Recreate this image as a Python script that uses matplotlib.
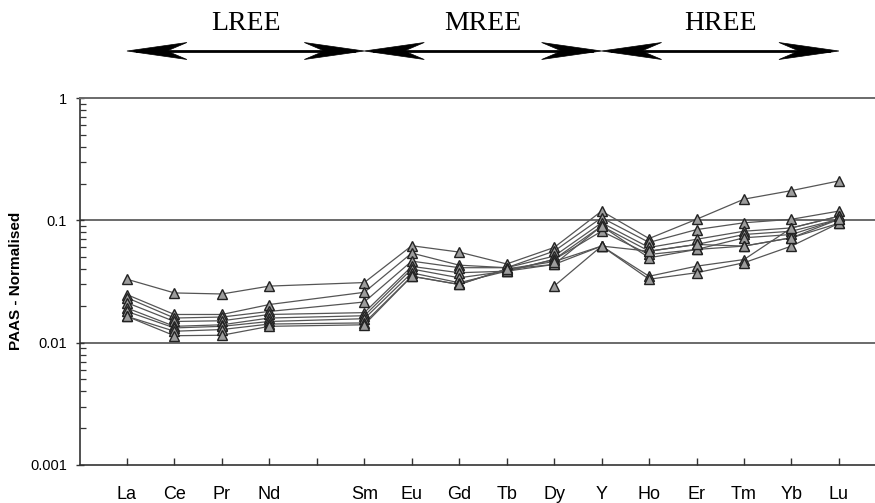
import numpy as np
import matplotlib
matplotlib.use("Agg")
import matplotlib.pyplot as plt
from matplotlib.patches import Polygon
from matplotlib.lines import Line2D
from matplotlib.transforms import IdentityTransform
from matplotlib.ticker import LogLocator, NullFormatter, FixedLocator

nan = np.nan

# Element order along the x axis (Pm slot left empty)
elements = ["La", "Ce", "Pr", "Nd", "", "Sm", "Eu", "Gd", "Tb", "Dy",
            "Y", "Ho", "Er", "Tm", "Yb", "Lu"]

# PAAS-normalised concentrations, one list per sample (index 4 = Pm, no data)
s1 = [0.033, 0.0255, 0.025, 0.029, nan, 0.031, 0.062, 0.055, 0.044, 0.060,
      0.119, 0.071, 0.102, 0.149, 0.175, 0.210]
s2 = [0.0247, 0.017, 0.017, 0.0205, nan, 0.0258, 0.054, 0.043, 0.041, 0.056,
      0.105, 0.066, 0.084, 0.0955, 0.102, 0.119]
s3 = [0.0233, 0.0159, 0.0162, 0.018, nan, 0.0215, 0.0464, 0.041, 0.041, 0.051,
      0.0955, 0.060, 0.070, 0.0815, 0.0867, 0.108]
s4 = [0.0212, 0.0149, 0.0151, 0.017, nan, 0.0176, 0.042, 0.0373, 0.0384, 0.048,
      0.0898, 0.056, 0.0635, 0.0766, 0.0815, 0.102]
s5 = [0.0192, 0.0136, 0.014, 0.0159, nan, 0.0166, 0.040, 0.0339, 0.0384, 0.0478,
      0.0815, 0.0526, 0.0578, 0.072, 0.0766, 0.102]
s6 = [0.0180, 0.0132, 0.0136, 0.0149, nan, 0.0157, 0.0372, 0.0309, 0.0384, 0.0436,
      0.0898, 0.0494, 0.0578, 0.0616, 0.072, 0.0947]
s7 = [0.0164, 0.0124, 0.0128, 0.0142, nan, 0.0145, 0.0349, 0.0299, 0.040, 0.0436,
      0.0616, 0.0349, 0.0422, 0.0478, 0.0867, 0.108]
s8 = [0.0164, 0.0114, 0.0115, 0.0136, nan, 0.0140, 0.0349, 0.0299, 0.040, 0.046,
      0.0616, 0.033, 0.0373, 0.045, 0.0616, 0.0947]
s9 = [nan, nan, nan, nan, nan, nan, nan, nan, nan, 0.029,
      0.0616, 0.0559, 0.0635, 0.0616, 0.072, 0.102]
samples = [s1, s2, s3, s4, s5, s6, s7, s8, s9]

y_ticks = [0.001, 0.01, 0.1, 1]
y_tick_labels = ["0.001", "0.01", "0.1", "1"]

groups = ["LREE", "MREE", "HREE"]
group_spans = [(0, 5), (5, 10), (10, 15)]

W, H = 875, 503
fig = plt.figure(figsize=(W / 100, H / 100), dpi=100)
ax_left, ax_bottom = 79.5 / W, 38 / H
ax = fig.add_axes([ax_left, ax_bottom, 1 - ax_left, 367 / H])

x = np.arange(len(elements))
for s in samples:
    v = np.array(s, dtype=float)
    m = ~np.isnan(v)
    # the line skips the empty Pm slot so Nd joins Sm directly
    not_pm = x != 4
    ax.plot(x[not_pm], v[not_pm], color="#555555", lw=0.9, zorder=2)
    ax.plot(x[m], v[m], linestyle="none", marker="^", markersize=7.5,
            markerfacecolor="#9c9c9c", markeredgecolor="#222222",
            markeredgewidth=1.0, zorder=3)

ax.set_yscale("log")
ax.set_ylim(0.001, 1)
ax.set_xlim(-1, 15.76)

for g in [0.01, 0.1]:
    ax.axhline(g, color="#6a6a6a", lw=1.4, zorder=1)

ax.spines["right"].set_visible(False)
ax.spines["top"].set_color("#6a6a6a")
ax.spines["top"].set_linewidth(1.4)
for sp in ["left", "bottom"]:
    ax.spines[sp].set_color("#333333")
    ax.spines[sp].set_linewidth(1.2)

ax.yaxis.set_major_locator(FixedLocator(y_ticks))
ax.set_yticklabels(y_tick_labels, fontsize=10.5, family="Liberation Sans")
ax.yaxis.set_minor_locator(LogLocator(base=10, subs=np.arange(2, 10)))
ax.yaxis.set_minor_formatter(NullFormatter())
ax.tick_params(axis="y", which="major", direction="inout", length=6,
               width=1.0, color="#333333", pad=6)
ax.tick_params(axis="y", which="minor", direction="in", length=4,
               width=0.9, color="#333333")

ax.set_xticks(x)
ax.set_xticklabels(elements, fontsize=13, family="Liberation Sans")
ax.tick_params(axis="x", which="major", direction="in", length=5,
               width=1.0, color="#333333", pad=15)
ax.tick_params(axis="x", which="minor", bottom=False)

fig.text(16 / W, 1 - 281 / H, "PAAS - Normalised", rotation=90,
         ha="center", va="center", fontsize=11, fontweight="bold",
         family="Liberation Sans")

# Group arrows above the plot, in pixel coordinates
def xpix(v):
    return (ax_left + (v + 1) / (15.76 + 1) * (1 - ax_left)) * W

arrow_y = H - 51
ident = IdentityTransform()

def head(tip, direction):
    d = direction
    pts = [(tip, arrow_y),
           (tip + d * 60, arrow_y + 8.5),
           (tip + d * 40, arrow_y),
           (tip + d * 60, arrow_y - 8.5)]
    fig.add_artist(Polygon(pts, closed=True, facecolor="black",
                           edgecolor="black", lw=0.5, transform=ident))

for name, (a, b) in zip(groups, group_spans):
    xa, xb = xpix(a), xpix(b)
    fig.add_artist(Line2D([xa + 10, xb - 10], [arrow_y, arrow_y],
                          color="black", lw=2.0, transform=ident))
    head(xa, 1)
    head(xb, -1)
    fig.text((xa + xb) / 2 / W, 1 - 23 / H, name, ha="center", va="center",
             fontsize=20, family="Liberation Serif")

fig.savefig("out.png", dpi=100)
